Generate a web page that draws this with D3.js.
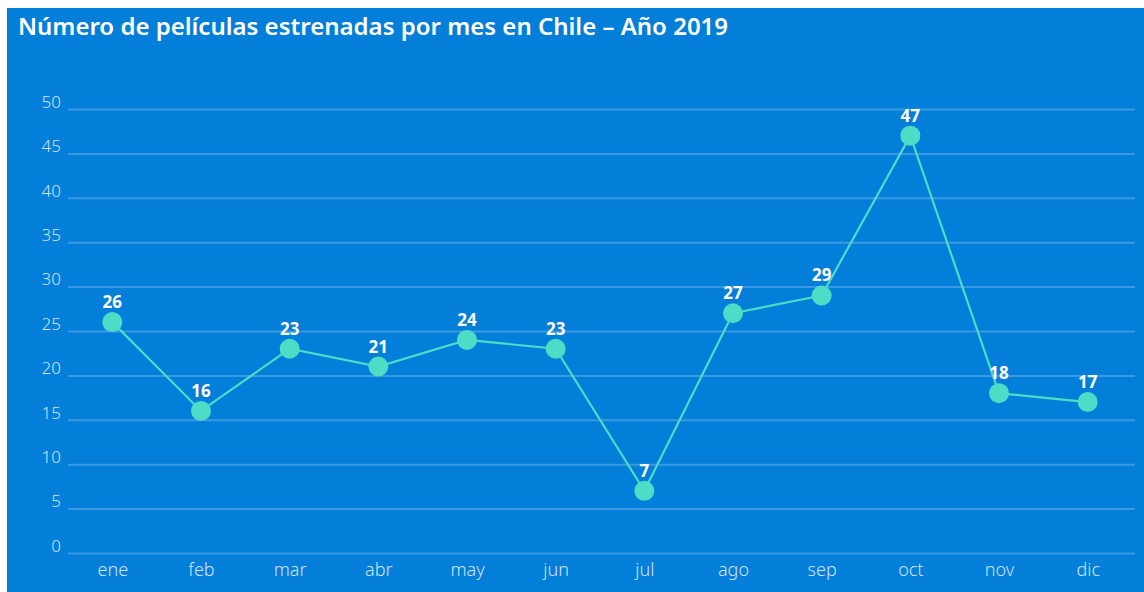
<!DOCTYPE html>
<html><head><meta charset="utf-8">
<script src="https://cdn.jsdelivr.net/npm/d3@7"></script>
<style>body{margin:0;background:#fff;} svg{display:block;}</style>
</head><body>
<svg id="c" width="1144" height="592"></svg>
<script>
const months = ["ene","feb","mar","abr","may","jun","jul","ago","sep","oct","nov","dic"];
const films = [26,16,23,21,24,23,7,27,29,47,18,17];
const yTicks = [0,5,10,15,20,25,30,35,40,45,50];
const title = "Número de películas estrenadas por mes en Chile – Año 2019";

const svg = d3.select("#c");
const font = "'Noto Sans', 'Open Sans', sans-serif";
svg.append("rect").attr("x",7).attr("y",8).attr("width",1137).attr("height",584).attr("fill","#037ed9");
svg.append("text").attr("x",18).attr("y",35).attr("fill","#fff").attr("font-family",font)
  .attr("font-weight",600).attr("font-size",24).text(title);

const x = d3.scalePoint().domain(months).range([68,1132]).padding(0.5);
const y = d3.scaleLinear().domain([0,50]).range([553,109]);

const gy = svg.append("g").attr("transform","translate(68,0)")
  .call(d3.axisLeft(y).tickValues(yTicks).tickSize(-(1135-68)).tickPadding(7));
gy.select(".domain").remove();
gy.selectAll(".tick line").attr("stroke","rgba(255,255,255,0.22)").attr("stroke-width",2);
gy.selectAll(".tick text").attr("fill","#cfe3f6").attr("font-family",font).attr("font-size",17)
  .attr("dy","-0.1em").attr("font-weight",300);

const gx = svg.append("g").attr("transform","translate(0,553)")
  .call(d3.axisBottom(x).tickSize(0).tickPadding(10));
gx.select(".domain").remove();
gx.selectAll(".tick text").attr("fill","#cfe3f6").attr("font-family",font).attr("font-size",18).attr("font-weight",300);

const data = months.map((m,i)=>({m, v: films[i]}));
svg.append("path").datum(data)
  .attr("d", d3.line().x(d=>x(d.m)).y(d=>y(d.v)))
  .attr("fill","none").attr("stroke","#4ddcc6").attr("stroke-width",2.2);
svg.selectAll("circle.pt").data(data).join("circle").attr("class","pt")
  .attr("cx",d=>x(d.m)).attr("cy",d=>y(d.v)).attr("r",10).attr("fill","#4ddcc6");
svg.selectAll("text.lbl").data(data).join("text").attr("class","lbl")
  .attr("x",d=>x(d.m)).attr("y",d=>y(d.v)-14).attr("text-anchor","middle")
  .attr("fill","#fff").attr("font-family",font).attr("font-weight",700).attr("font-size",17)
  .text(d=>d.v);
</script>
</body></html>
